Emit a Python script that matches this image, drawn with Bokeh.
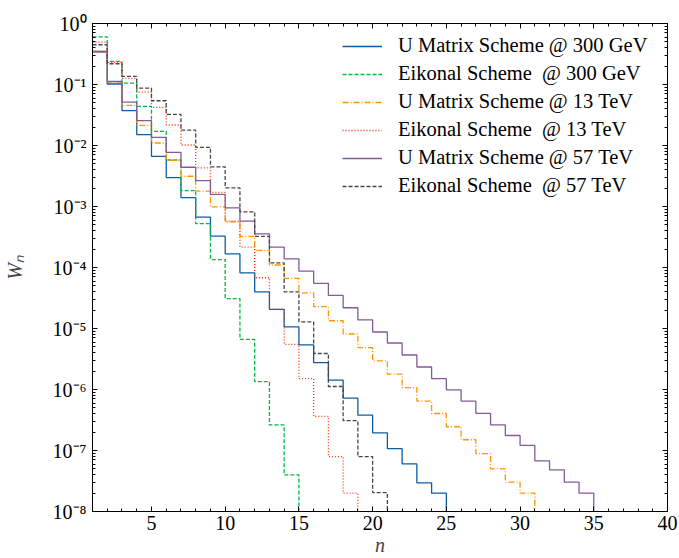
from bokeh.plotting import figure
from bokeh.models import (FixedTicker, LogAxis, LinearAxis, CustomJSTickFormatter,
                          Legend, LegendItem, Range1d)
from bokeh.embed import file_html
from bokeh.resources import INLINE

# ---------------- data (W_n for n = 1, 2, 3, ...) ----------------
N_START = 1

u_matrix_300gev = [0.348, 0.102, 0.0372, 0.0151, 0.00665, 0.00298, 0.00140, 6.68e-4,
                   3.27e-4, 1.67e-4, 8.18e-5, 3.98e-5, 2.06e-5, 1.06e-5, 5.37e-6,
                   2.75e-6, 1.42e-6, 7.24e-7, 3.80e-7, 1.95e-7, 1.07e-7, 6.03e-8,
                   2.95e-8, 2.0e-8]

eikonal_300gev = [0.605, 0.239, 0.105, 0.0439, 0.0171, 0.00579, 0.00182, 5.25e-4,
                  1.35e-4, 3.09e-5, 6.61e-6, 1.35e-6, 2.63e-7, 3.98e-8]

u_matrix_13tev = [0.352, 0.110, 0.0455, 0.0214, 0.0110, 0.00573, 0.00313, 0.00178,
                  9.86e-4, 5.60e-4, 3.24e-4, 1.91e-4, 1.10e-4, 6.61e-5, 3.85e-5,
                  2.28e-5, 1.34e-5, 8.13e-6, 4.85e-6, 2.95e-6, 1.78e-6, 1.07e-6,
                  6.46e-7, 4.04e-7, 2.45e-7, 1.50e-7, 8.91e-8, 5.01e-8, 3.02e-8, 2.0e-8]

eikonal_13tev = [0.494, 0.230, 0.126, 0.0752, 0.0422, 0.0217, 0.0102, 0.00429,
                 0.00171, 5.75e-4, 2.16e-4, 6.79e-5, 2.06e-5, 5.50e-6, 1.51e-6,
                 3.63e-7, 7.94e-8, 2.0e-8]

u_matrix_57tev = [0.339, 0.112, 0.0515, 0.0255, 0.0136, 0.00774, 0.00440, 0.00266,
                  0.00158, 9.51e-4, 5.75e-4, 3.56e-4, 2.16e-4, 1.39e-4, 8.73e-5,
                  5.50e-5, 3.49e-5, 2.19e-5, 1.39e-5, 8.77e-6, 5.79e-6, 3.68e-6,
                  2.34e-6, 1.51e-6, 9.84e-7, 6.46e-7, 4.07e-7, 2.63e-7, 1.76e-7,
                  1.21e-7, 6.76e-8, 4.83e-8, 3.02e-8, 2.0e-8]

eikonal_57tev = [0.448, 0.219, 0.136, 0.0873, 0.0542, 0.0324, 0.0179, 0.00933,
                 0.00447, 0.00202, 8.17e-4, 3.24e-4, 1.19e-4, 3.98e-5, 1.28e-5,
                 3.89e-6, 1.12e-6, 3.09e-7, 7.94e-8, 2.04e-8]

labels = ["U Matrix Scheme @ 300 GeV", "Eikonal Scheme  @ 300 GeV",
          "U Matrix Scheme @ 13 TeV", "Eikonal Scheme  @ 13 TeV",
          "U Matrix Scheme @ 57 TeV", "Eikonal Scheme  @ 57 TeV"]

x_ticks = [5, 10, 15, 20, 25, 30, 35, 40]
X_MIN, X_MAX = 1, 40
Y_MIN, Y_MAX = 1e-8, 1.0

# ---------------- styling ----------------
FONT = "Liberation Serif"
colors = ["#0C5DA5", "#00B945", "#FF9500", "#FF2C00", "#845B97", "#474747"]
dashes = ["solid", "4 2", "6 2 1 2", "1 2", "solid", "4 2"]
series = [u_matrix_300gev, eikonal_300gev, u_matrix_13tev,
          eikonal_13tev, u_matrix_57tev, eikonal_57tev]

p = figure(width=679, height=558, x_range=Range1d(X_MIN, X_MAX),
           y_range=Range1d(Y_MIN, Y_MAX), y_axis_type="log",
           output_backend="svg", toolbar_location=None,
           min_border_left=90, min_border_right=12, min_border_top=23,
           min_border_bottom=47)
p.xgrid.visible = False
p.ygrid.visible = False
p.outline_line_color = "black"
p.outline_line_width = 1
p.background_fill_color = "white"
p.border_fill_color = "white"

NAN = float("nan")
items = []
for vals, lab, col, dash in zip(series, labels, colors, dashes):
    xs = list(range(N_START, N_START + len(vals) + 1))
    ys = list(vals) + [Y_MIN]
    p.step(xs, ys, mode="after", line_color=col, line_width=1.3, line_dash=dash)
    # invisible (NaN) line renderer used only for the legend swatch
    sw = p.line(x=[NAN, NAN], y=[NAN, NAN], line_color=col, line_width=1.3,
                line_dash=dash)
    items.append(LegendItem(label=lab, renderers=[sw]))

# ticks
y_major = [10.0 ** e for e in range(-8, 1)]
y_minor = [m * 10.0 ** e for e in range(-8, 0) for m in range(2, 10)]
xt = FixedTicker(ticks=x_ticks, minor_ticks=list(range(X_MIN, X_MAX + 1)))
yt = FixedTicker(ticks=y_major, minor_ticks=y_minor)

sup_code = """
const sup = {"-":"\u207b","0":"\u2070","1":"\u00b9","2":"\u00b2","3":"\u00b3","4":"\u2074",
             "5":"\u2075","6":"\u2076","7":"\u2077","8":"\u2078","9":"\u2079"};
const e = Math.round(Math.log10(tick));
return "10" + String(e).split("").map(c => sup[c]).join("");
"""


def style_axis(ax, show_labels=True):
    ax.axis_line_color = "black"
    ax.axis_line_width = 1
    ax.major_tick_in = 5
    ax.major_tick_out = 0
    ax.minor_tick_in = 3
    ax.minor_tick_out = 0
    ax.major_tick_line_color = "black"
    ax.minor_tick_line_color = "black"
    ax.major_label_text_font = FONT
    ax.major_label_text_font_size = "20px"
    ax.major_label_text_color = "black"
    if not show_labels:
        ax.major_label_text_font_size = "0px"
        ax.major_label_standoff = 0


xa = p.xaxis[0]
xa.ticker = xt
style_axis(xa)
xa.major_label_standoff = 4
xa.axis_label = "n"
xa.axis_label_text_font = FONT
xa.axis_label_text_font_style = "italic"
xa.axis_label_text_font_size = "20px"
xa.axis_label_standoff = 1

ya = p.yaxis[0]
ya.ticker = yt
ya.formatter = CustomJSTickFormatter(code=sup_code)
style_axis(ya)
ya.major_label_standoff = 6
ya.axis_label = "W\u2099"
ya.axis_label_text_font = FONT
ya.axis_label_text_font_style = "italic"
ya.axis_label_text_font_size = "20px"
ya.axis_label_standoff = 24

top = LinearAxis(ticker=xt, formatter=CustomJSTickFormatter(code="return ''"))
style_axis(top, show_labels=False)
p.add_layout(top, "above")

right = LogAxis(ticker=yt, formatter=CustomJSTickFormatter(code="return ''"))
style_axis(right, show_labels=False)
p.add_layout(right, "right")

legend = Legend(items=items, location=(250, 314))
legend.border_line_alpha = 0
legend.background_fill_alpha = 0
legend.label_text_font = FONT
legend.label_text_font_size = "20.5px"
legend.label_text_color = "black"
legend.glyph_width = 40
legend.glyph_height = 20
legend.label_height = 20
legend.label_standoff = 16
legend.spacing = 5
legend.padding = 0
legend.margin = 0
p.add_layout(legend)

open("out.html", "w").write(file_html(p, INLINE))
